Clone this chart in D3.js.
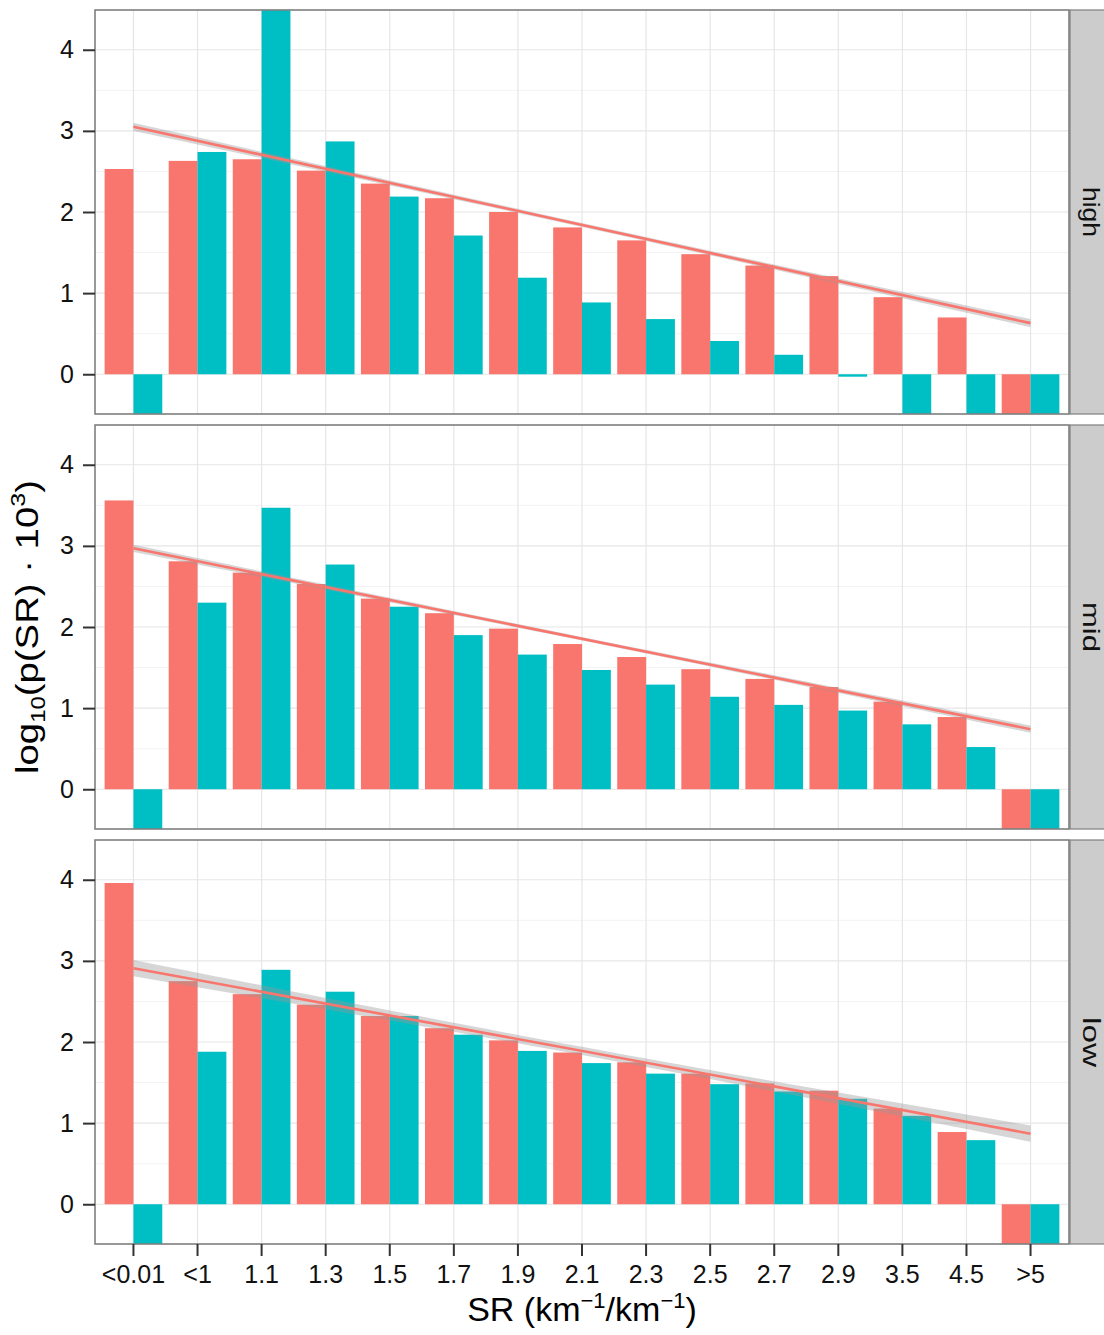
<!DOCTYPE html>
<html>
<head>
<meta charset="utf-8">
<script src="https://cdn.jsdelivr.net/npm/d3@7"></script>
<style>
  html, body { margin: 0; padding: 0; background: #fff; }
  svg { display: block; font-family: "Liberation Sans", Arial, Helvetica, sans-serif; }
</style>
</head>
<body>
<script>
// Size-ratio classes on the x axis
const categories = ["<0.01", "<1", "1.1", "1.3", "1.5", "1.7", "1.9", "2.1", "2.3", "2.5", "2.7", "2.9", "3.5", "4.5", ">5"];
const panelNames = ["high", "mid", "low"];
const seriesKeys = ["A", "B"];
const yTicks = [0, 1, 2, 3, 4];

// log10(p(SR)·10^3) per class; -Infinity marks empty classes (p = 0)
const highA = [2.53, 2.63, 2.65, 2.51, 2.35, 2.17, 2.00, 1.81, 1.65, 1.48, 1.34, 1.21, 0.95, 0.70, -Infinity];
const highB = [-Infinity, 2.74, 4.55, 2.87, 2.19, 1.71, 1.19, 0.885, 0.68, 0.41, 0.24, -0.03, -Infinity, -Infinity, -Infinity];
const midA  = [3.56, 2.81, 2.67, 2.53, 2.35, 2.17, 1.98, 1.79, 1.63, 1.48, 1.36, 1.26, 1.08, 0.89, -Infinity];
const midB  = [-Infinity, 2.30, 3.47, 2.77, 2.25, 1.90, 1.66, 1.47, 1.29, 1.14, 1.04, 0.97, 0.80, 0.52, -Infinity];
const lowA  = [3.96, 2.75, 2.59, 2.46, 2.32, 2.17, 2.02, 1.87, 1.75, 1.61, 1.49, 1.40, 1.18, 0.89, -Infinity];
const lowB  = [-Infinity, 1.88, 2.89, 2.62, 2.32, 2.09, 1.89, 1.74, 1.61, 1.48, 1.39, 1.30, 1.09, 0.79, -Infinity];

// Linear fit of series A per panel: value at first and last class, and
// half-width of the confidence band at the ends and at the centre
const fitStart = [3.05, 2.97, 2.91];
const fitEnd   = [0.63, 0.74, 0.87];
const bandEdge = [0.05, 0.045, 0.10];
const bandMid  = [0.025, 0.022, 0.05];

const panelSeries = [[highA, highB], [midA, midB], [lowA, lowB]];

const W = 1104, H = 1335;
const plotLeft = 95, plotRight = 1069;
const panelTops = [10, 425, 840];
const panelH = 404;
const colors = { A: "#F8766D", B: "#00BFC4" };

const svg = d3.select("body").append("svg")
  .attr("width", W).attr("height", H);

const x = d3.scaleBand()
  .domain(categories)
  .range([plotLeft, plotRight])
  .paddingInner(0.1)
  .paddingOuter(0.15);
const xSub = d3.scaleBand().domain(seriesKeys).range([0, x.bandwidth()]);
const xc = c => x(c) + x.bandwidth() / 2;
const xFit = d3.scaleLinear().domain([0, categories.length - 1])
  .range([xc(categories[0]), xc(categories[categories.length - 1])]);

const y = d3.scaleLinear().domain([-0.49, 4.49]).range([panelH, 0]).clamp(true);

panelNames.forEach((name, p) => {
  const g = svg.append("g").attr("transform", `translate(0,${panelTops[p]})`);

  g.append("rect").attr("x", plotLeft).attr("y", 0)
    .attr("width", plotRight - plotLeft).attr("height", panelH).attr("fill", "#fff");

  // minor horizontal grid
  g.selectAll(".minor").data([0.5, 1.5, 2.5, 3.5]).join("line")
    .attr("x1", plotLeft).attr("x2", plotRight)
    .attr("y1", d => y(d)).attr("y2", d => y(d))
    .attr("stroke", "#F3F3F3").attr("stroke-width", 1);
  // major grid
  g.selectAll(".majorY").data(yTicks).join("line")
    .attr("x1", plotLeft).attr("x2", plotRight)
    .attr("y1", d => y(d)).attr("y2", d => y(d))
    .attr("stroke", "#E6E6E6").attr("stroke-width", 1.2);
  g.selectAll(".majorX").data(categories).join("line")
    .attr("x1", d => xc(d)).attr("x2", d => xc(d))
    .attr("y1", 0).attr("y2", panelH)
    .attr("stroke", "#E6E6E6").attr("stroke-width", 1.2);

  const clipId = `clip-${name}`;
  g.append("clipPath").attr("id", clipId)
    .append("rect").attr("x", plotLeft).attr("y", 0)
    .attr("width", plotRight - plotLeft).attr("height", panelH);

  const plot = g.append("g").attr("clip-path", `url(#${clipId})`);

  const bars = [];
  seriesKeys.forEach((k, s) => {
    panelSeries[p][s].forEach((v, i) => bars.push({ k, c: categories[i], v }));
  });
  plot.selectAll(".bar").data(bars).join("rect")
    .attr("x", d => x(d.c) + xSub(d.k))
    .attr("width", xSub.bandwidth())
    .attr("y", d => Math.min(y(d.v), y(0)))
    .attr("height", d => Math.abs(y(d.v) - y(0)))
    .attr("fill", d => colors[d.k]);

  // fitted line with confidence band
  const n = categories.length - 1;
  const ts = d3.range(0, n + 0.001, 0.25);
  const fitVal = t => fitStart[p] + (fitEnd[p] - fitStart[p]) * t / n;
  const half = t => {
    const u = (t - n / 2) / (n / 2);
    return Math.sqrt(bandMid[p] ** 2 + (bandEdge[p] ** 2 - bandMid[p] ** 2) * u * u);
  };
  plot.append("path")
    .datum(ts)
    .attr("d", d3.area()
      .x(t => xFit(t))
      .y0(t => y(fitVal(t) - half(t)))
      .y1(t => y(fitVal(t) + half(t))))
    .attr("fill", "#999999").attr("fill-opacity", 0.4);
  plot.append("path")
    .datum([0, n])
    .attr("d", d3.line().x(t => xFit(t)).y(t => y(fitVal(t))))
    .attr("fill", "none").attr("stroke", colors.A).attr("stroke-width", 2.6);

  // panel border
  g.append("rect").attr("x", plotLeft).attr("y", 0)
    .attr("width", plotRight - plotLeft).attr("height", panelH)
    .attr("fill", "none").attr("stroke", "#7F7F7F").attr("stroke-width", 1.6);

  // facet strip
  g.append("rect").attr("x", plotRight + 1).attr("y", 0)
    .attr("width", 50).attr("height", panelH)
    .attr("fill", "#CCCCCC").attr("stroke", "#7F7F7F").attr("stroke-width", 1.2);
  const st = g.append("g").attr("transform", `translate(1083,${panelH / 2}) rotate(90)`)
    .append("text")
    .attr("text-anchor", "middle")
    .attr("font-size", 23).attr("fill", "#111")
    .text(name);
  const sl = st.node().getComputedTextLength();
  st.attr("transform", `scale(${50 / sl},1)`);

  // y axis
  const ya = g.append("g").attr("transform", `translate(${plotLeft},0)`)
    .call(d3.axisLeft(y).tickValues(yTicks).tickSize(12).tickPadding(9).tickFormat(d3.format("d")));
  ya.select(".domain").remove();
  ya.selectAll(".tick line").attr("stroke", "#333").attr("stroke-width", 2);
  ya.selectAll(".tick text").attr("font-size", 25).attr("fill", "#111")
    .attr("font-family", "Liberation Sans, Arial, sans-serif");
});

// x axis under the bottom panel
const xa = svg.append("g")
  .attr("transform", `translate(0,${panelTops[2] + panelH})`)
  .call(d3.axisBottom(x).tickSize(12).tickPadding(9));
xa.select(".domain").remove();
xa.selectAll(".tick line").attr("stroke", "#333").attr("stroke-width", 2);
xa.selectAll(".tick text").attr("font-size", 25).attr("fill", "#111")
  .attr("font-family", "Liberation Sans, Arial, sans-serif");

// axis titles
const xt = svg.append("text")
  .attr("x", (plotLeft + plotRight) / 2).attr("y", 1321)
  .attr("text-anchor", "middle").attr("font-size", 34).attr("fill", "#000");
xt.append("tspan").text("SR (km");
xt.append("tspan").attr("font-size", 22).attr("dy", -13).text("−1");
xt.append("tspan").attr("dy", 13).text("/km");
xt.append("tspan").attr("font-size", 22).attr("dy", -13).text("−1");
xt.append("tspan").attr("dy", 13).text(")");

const ytg = svg.append("g").attr("transform", `translate(38,${(panelTops[0] + panelTops[2] + panelH) / 2}) rotate(-90)`);
const yt = ytg.append("text").attr("text-anchor", "middle")
  .attr("font-size", 32).attr("fill", "#000");
yt.append("tspan").text("log");
yt.append("tspan").attr("font-size", 20).attr("dy", 7).text("10");
yt.append("tspan").attr("dy", -7).text("(p(SR) · 10");
yt.append("tspan").attr("font-size", 21).attr("dy", -13).text("3");
yt.append("tspan").attr("dy", 13).text(")");
const yl = yt.node().getComputedTextLength();
yt.attr("transform", `scale(${294 / yl},1)`);
</script>
</body>
</html>
